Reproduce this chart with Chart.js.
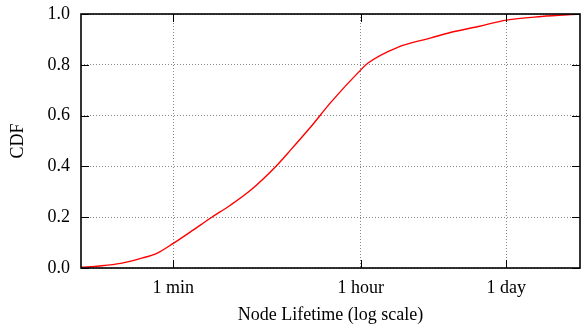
<!DOCTYPE html>
<html>
<head>
<meta charset="utf-8">
<script src="https://cdn.jsdelivr.net/npm/chart.js@4"></script>
<style>
  html, body { margin: 0; padding: 0; background: #fff; }
  #wrap { width: 581px; height: 326px; }
</style>
</head>
<body>
<div id="wrap"><canvas id="cdfChart" width="581" height="326"></canvas></div>
<script>
// node lifetime in seconds, and the CDF at that lifetime
var lifetimeSec = [8, 12, 19, 29, 42, 60, 88, 136, 210, 326, 563, 780, 1210, 1880, 3600, 4190, 8070, 16750, 25900, 48000, 86400, 186000, 432000];
var cdfValues = [0.003, 0.008, 0.018, 0.037, 0.058, 0.097, 0.143, 0.197, 0.248, 0.307, 0.40, 0.465, 0.556, 0.653, 0.78, 0.806, 0.869, 0.906, 0.928, 0.952, 0.976, 0.99, 1.0];

var xTickValues = [60, 3600, 86400];
var xTickLabels = ['1 min', '1 hour', '1 day'];
var yTickValues = [0, 0.2, 0.4, 0.6, 0.8, 1.0];

var serif = '"Liberation Serif", "DejaVu Serif", serif';

var points = lifetimeSec.map(function (t, i) {
    return { x: t, y: cdfValues[i] };
});

// gnuplot style frame with inward ticks on all four sides
var framePlugin = {
    id: 'frame',
    afterDraw: function (chart) {
        var ctx = chart.ctx;
        var a = chart.chartArea;
        var xs = chart.scales.x, ys = chart.scales.y;
        var len = 8;
        ctx.save();
        ctx.strokeStyle = '#000';
        ctx.lineWidth = 1;
        ctx.beginPath();
        yTickValues.forEach(function (v) {
            var py = Math.round(ys.getPixelForValue(v)) + 0.5;
            ctx.moveTo(a.left, py); ctx.lineTo(a.left + len, py);
            ctx.moveTo(a.right, py); ctx.lineTo(a.right - len, py);
        });
        xTickValues.forEach(function (v) {
            var px = Math.round(xs.getPixelForValue(v)) + 0.5;
            ctx.moveTo(px, a.bottom); ctx.lineTo(px, a.bottom - len);
            ctx.moveTo(px, a.top); ctx.lineTo(px, a.top + len);
        });
        ctx.stroke();
        ctx.lineWidth = 1.6;
        ctx.strokeRect(a.left, a.top, a.right - a.left, a.bottom - a.top);
        ctx.restore();
    }
};

var config = {
    type: 'line',
    data: {
        datasets: [{
            label: 'CDF',
            data: points,
            borderColor: '#ff0000',
            borderWidth: 1.4,
            pointRadius: 0,
            fill: false,
            cubicInterpolationMode: 'monotone'
        }]
    },
    options: {
        responsive: false,
        animation: false,
        layout: { padding: { top: 14, right: 1, left: 0, bottom: 0 } },
        plugins: {
            legend: { display: false },
            tooltip: { enabled: false }
        },
        scales: {
            x: {
                type: 'logarithmic',
                min: 8,
                max: 432000,
                afterBuildTicks: function (scale) {
                    scale.ticks = xTickValues.map(function (v) { return { value: v }; });
                },
                afterFit: function (scale) {
                    scale.height = 58;
                    scale.paddingLeft = 0;
                    scale.paddingRight = 0;
                },
                ticks: {
                    autoSkip: false,
                    maxRotation: 0,
                    padding: 9,
                    color: '#000',
                    font: { family: serif, size: 18 },
                    callback: function (value) {
                        var i = xTickValues.indexOf(value);
                        return i >= 0 ? xTickLabels[i] : '';
                    }
                },
                grid: { color: '#888', lineWidth: 1, drawTicks: false },
                border: { display: false, dash: [1, 2] },
                title: {
                    display: true,
                    text: 'Node Lifetime (log scale)',
                    color: '#000',
                    font: { family: serif, size: 18 },
                    padding: { top: 0, bottom: 0 }
                }
            },
            y: {
                min: 0,
                max: 1,
                afterBuildTicks: function (scale) {
                    scale.ticks = yTickValues.map(function (v) { return { value: v }; });
                },
                afterFit: function (scale) {
                    scale.width = 81;
                    scale.paddingTop = 0;
                    scale.paddingBottom = 0;
                },
                ticks: {
                    padding: 11,
                    color: '#000',
                    font: { family: serif, size: 18 },
                    callback: function (value) { return Number(value).toFixed(1); }
                },
                grid: { color: '#888', lineWidth: 1, drawTicks: false },
                border: { display: false, dash: [1, 2] },
                title: {
                    display: true,
                    text: 'CDF',
                    color: '#000',
                    font: { family: serif, size: 18 },
                    padding: { top: 7, bottom: 0 }
                }
            }
        }
    },
    plugins: [framePlugin]
};

var cdfChart = new Chart(document.getElementById('cdfChart'), config);
</script>
</body>
</html>
